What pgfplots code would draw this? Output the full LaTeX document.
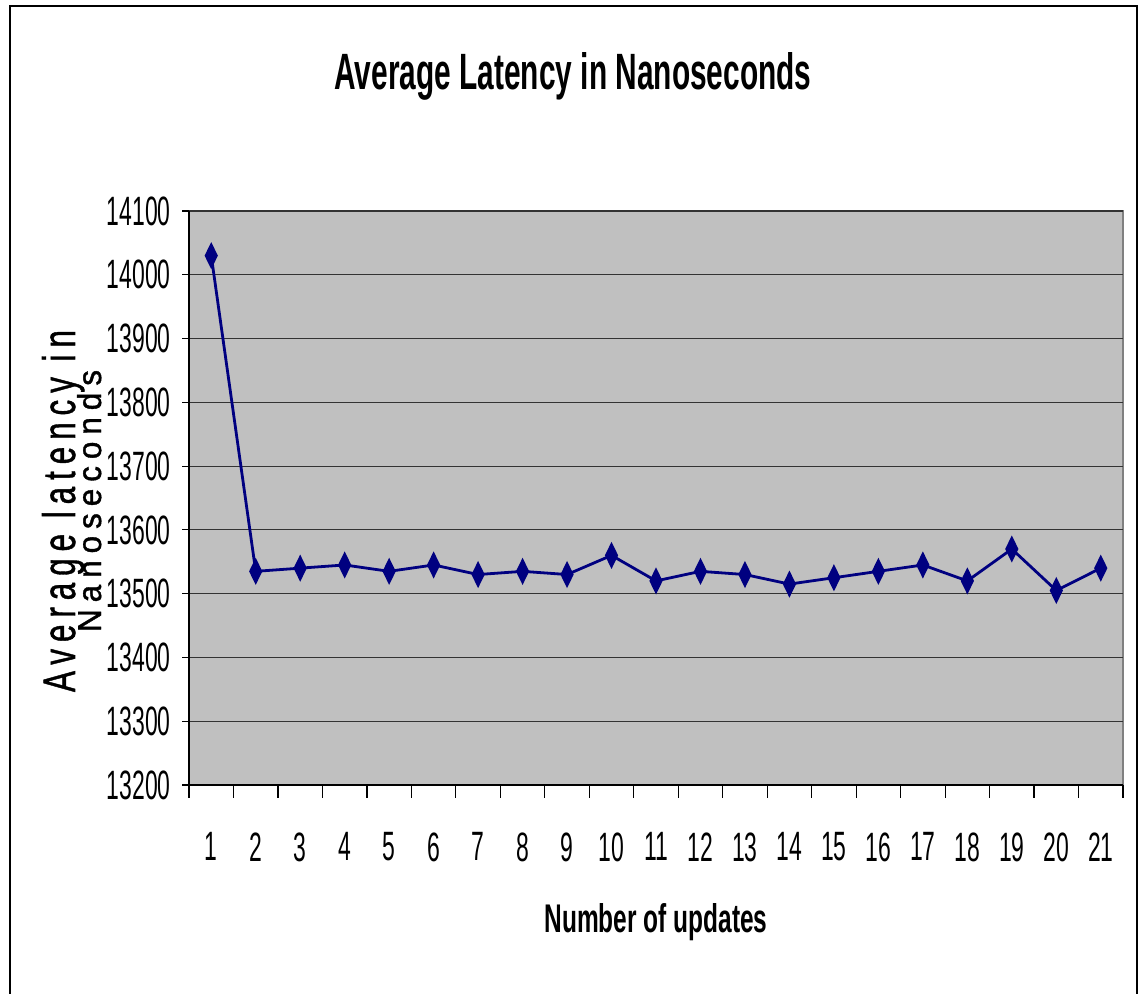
\documentclass[border=0pt]{standalone}
\usepackage{pgfplots}
\pgfplotsset{compat=1.18}
\usepackage{fontspec}
\setmainfont[FakeStretch=0.56]{Liberation Sans}
\newfontfamily\spaced[LetterSpace=22, FakeBold=1.2]{Liberation Sans}
\definecolor{plotgray}{HTML}{C0C0C0}
\definecolor{framegray}{HTML}{808080}
\definecolor{linenavy}{HTML}{000080}
\begin{document}
\begin{tikzpicture}
\useasboundingbox (0,0) rectangle (569.5pt,497pt);
% frame round the chart
\draw[line width=1pt] (5pt,-2pt) -- (5pt,494pt) -- (568.5pt,494pt) -- (568.5pt,-2pt);
\begin{axis}[
    at={(94.5pt,104.5pt)}, anchor=south west,
    scale only axis,
    width=467pt, height=287pt,
    xmin=0.5, xmax=21.5,
    ymin=13200, ymax=14100,
    ytick={13200,13300,...,14100},
    xtick={1,...,21},
    minor xtick={0.5,1.5,...,21.5},
    axis lines*=left,
    axis line style={black, line width=0.8pt},
    axis background/.style={fill=plotgray, draw=framegray, line width=1.2pt},
    ymajorgrids,
    major grid style={draw=black!80, line width=0.6pt},
    tick align=outside,
    major tick length=3.5pt,
    minor tick length=6.5pt,
    major x tick style={draw=none},
    minor x tick style={black, line width=0.6pt},
    y tick style={black, line width=0.6pt},
    scaled y ticks=false,
    /pgf/number format/1000 sep={},
    /pgf/number format/assume math mode=true,
    tick label style={font=\fontsize{20.5}{22}\selectfont},
    yticklabel style={inner sep=0pt, xshift=-5.5pt},
    xticklabel style={inner sep=0pt, yshift=-20pt},
    clip=false,
]
\addplot[linenavy, line width=1.4pt, mark=diamond*,
         mark size=5.2pt, mark options={xscale=0.65, fill=linenavy, draw=linenavy}]
coordinates {
    (1,14030) (2,13535) (3,13540) (4,13545) (5,13535) (6,13545) (7,13530)
    (8,13535) (9,13530) (10,13560) (11,13520) (12,13535) (13,13530) (14,13515)
    (15,13525) (16,13535) (17,13545) (18,13520) (19,13570) (20,13505) (21,13540)
};
\end{axis}
% title
\node[anchor=base, inner sep=0pt] at (286.5pt,452pt)
    {\resizebox{238.5pt}{18.5pt}{\bfseries Average Latency in Nanoseconds}};
% x label
\node[anchor=base, inner sep=0pt] at (328pt,30.5pt)
    {\resizebox{111.5pt}{14.5pt}{\bfseries Number of updates}};
% y label, two overlapping lines as in the original
\node[rotate=90, anchor=base, inner sep=0pt] at (37.5pt,241.5pt)
    {\resizebox{181pt}{16.5pt}{\spaced Average latency in}};
\node[rotate=90, anchor=base, inner sep=0pt] at (50.5pt,246.5pt)
    {\resizebox{131pt}{12pt}{\spaced Nanoseconds}};
\end{tikzpicture}
\end{document}
